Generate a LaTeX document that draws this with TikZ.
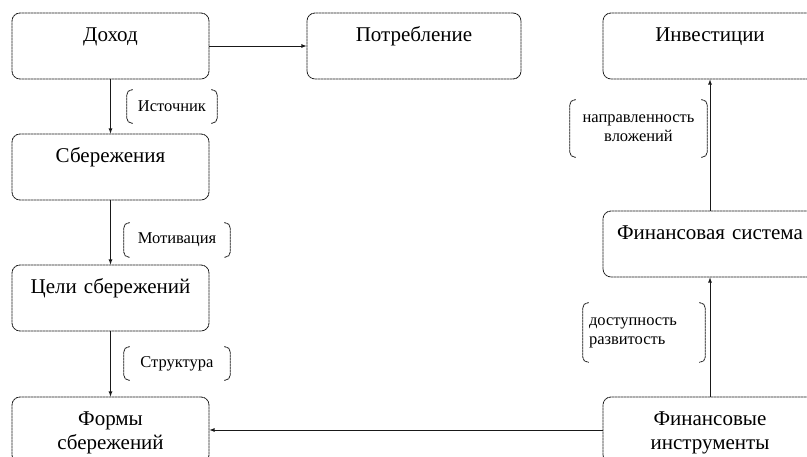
\documentclass[tikz,border=0pt]{standalone}
\usepackage{fontspec}
\setmainfont{Liberation Serif}
\newfontfamily\boxfont{Liberation Serif}

\begin{document}
\begin{tikzpicture}[x=1pt, y=-1pt, >=latex,
    line/.style={draw=black!90, line width=0.8pt, dash pattern=on 2.5pt off 0.5pt},
    box/.style={line, rounded corners=8pt, text width=197pt, align=center, inner sep=0pt,
        text height=29pt, text depth=37pt, font=\boxfont\fontsize{21}{24}\selectfont},
    wbox/.style={box, text width=214pt},
    tag/.style={inner sep=0pt, font=\boxfont\fontsize{16.5}{19}\selectfont},
    brk/.style={line, rounded corners=5pt}]
    \useasboundingbox (0,0) rectangle (807,457);
    \clip (0,0) rectangle (807,457);
    % left column
    \node[box] (dohod) at (110.5,46) {Доход};
    \node[box] (sav) at (110.5,167) {Сбережения};
    \node[box] (goal) at (110.5,298) {Цели сбережений};
    \node[box] (form) at (110.5,430) {Формы\\сбережений};
    % top and right column
    \node[wbox] (cons) at (414,46) {Потребление};
    \node[wbox] (inv) at (710,46) {Инвестиции};
    \node[wbox] (fsys) at (710,244) {Финансовая система};
    \node[wbox] (instr) at (710,430) {Финансовые\\инструменты};
    % bracketed labels
    \node[tag, minimum width=90pt, minimum height=33pt] (src) at (172,106.5) {Источник};
    \node[tag, minimum width=106pt, minimum height=34pt] (mot) at (177,240) {Мотивация};
    \node[tag, minimum width=106pt, minimum height=33pt] (str) at (177,363.5) {Структура};
    \node[tag, minimum width=137pt, minimum height=57pt, align=center] (dir) at (638.5,128.5) {направленность\\вложений};
    \node[tag, minimum width=122pt, minimum height=59pt, text width=110pt, align=left] (acc) at (644,332.5) {доступность\\развитость};
    \foreach \n in {src,mot,str,dir,acc} {
        \draw[brk] ([xshift=6pt]\n.north west) -- (\n.north west) -- (\n.south west) -- ([xshift=6pt]\n.south west);
        \draw[brk] ([xshift=-6pt]\n.north east) -- (\n.north east) -- (\n.south east) -- ([xshift=-6pt]\n.south east);
    }
    % connectors
    \draw[line, ->] (dohod) -- (cons);
    \draw[line, ->] (dohod) -- (sav);
    \draw[line, ->] (sav) -- (goal);
    \draw[line, ->] (goal) -- (form);
    \draw[line, ->] (instr) -- (form);
    \draw[line, ->] (instr) -- (fsys);
    \draw[line, ->] (fsys) -- (inv);
\end{tikzpicture}
\end{document}
